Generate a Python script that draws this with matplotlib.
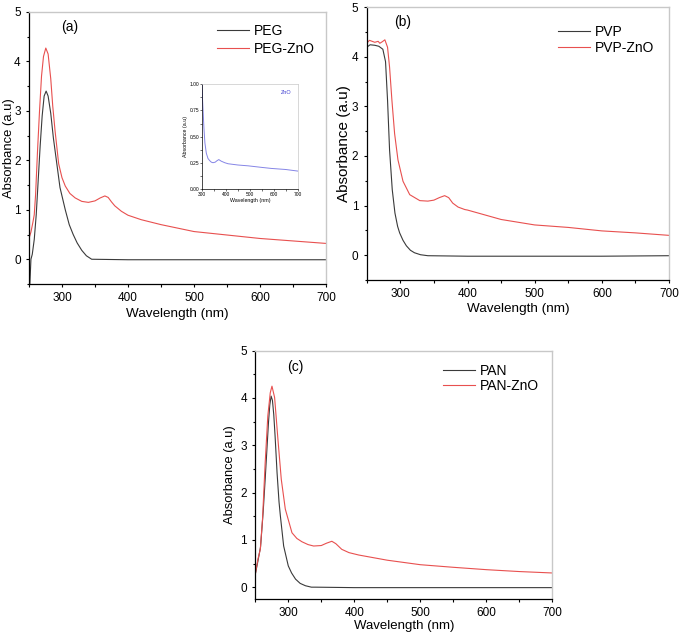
import matplotlib
matplotlib.use("Agg")
import matplotlib.pyplot as plt
from matplotlib.ticker import MultipleLocator

plt.rcParams['font.family'] = ['Liberation Sans', 'DejaVu Sans']

# ---------------- data ----------------
# Panel (a)
peg_x = [251, 252, 253, 255, 258, 261, 264, 267, 270, 273, 276, 279, 283, 287, 292,
         297, 305, 311, 317, 323, 330, 337, 345, 400, 500, 600, 700]
peg_y = [-0.6, -0.3, 0.0, 0.1, 0.4, 0.9, 1.6, 2.3, 2.9, 3.3, 3.4, 3.3, 2.95, 2.45, 1.95,
         1.45, 1.0, 0.7, 0.5, 0.33, 0.18, 0.07, 0.0, -0.01, -0.01, -0.01, -0.01]
pegzno_x = [250, 253, 256, 258, 260, 263, 266, 269, 272, 275.5, 279, 283, 286, 289.5, 295,
            300, 305, 312, 320, 330, 340, 350, 358, 365, 370, 375, 380, 390, 400, 420,
            450, 500, 550, 600, 650, 700]
pegzno_y = [0.42, 0.55, 0.75, 0.9, 1.3, 2.2, 3.0, 3.7, 4.1, 4.27, 4.15, 3.65, 3.1, 2.6, 1.93,
            1.65, 1.48, 1.33, 1.24, 1.17, 1.15, 1.18, 1.24, 1.28, 1.25, 1.16, 1.08, 0.97, 0.89, 0.80,
            0.70, 0.56, 0.49, 0.42, 0.37, 0.32]
# Inset (ZnO)
zno_x = [300, 302, 305, 308, 312, 318, 325, 332, 339, 346, 355, 362, 370, 380, 395, 409,
         450, 493, 550, 591, 650, 700]
zno_y = [1.0, 0.86, 0.72, 0.58, 0.44, 0.34, 0.29, 0.27, 0.255, 0.25, 0.255, 0.268, 0.28, 0.265,
         0.25, 0.24, 0.228, 0.22, 0.205, 0.195, 0.185, 0.17]

# Panel (b)
pvp_x = [250, 255, 262, 268, 274, 278, 281, 284, 288, 292, 296, 299, 304, 309, 315, 321,
         330, 341, 400, 500, 600, 700]
pvp_y = [4.19, 4.24, 4.23, 4.21, 4.15, 3.9, 3.12, 2.12, 1.32, 0.85, 0.58, 0.45, 0.3, 0.19, 0.1, 0.05,
         0.01, -0.01, -0.02, -0.02, -0.02, -0.01]
pvpzno_x = [250, 254, 258, 262, 267, 269.5, 273, 277, 281, 284, 287.5, 291.5, 296.5, 304, 314,
            329, 341, 350, 358, 366, 372, 378, 386, 396, 400, 450, 500, 550, 600, 650, 700]
pvpzno_y = [4.27, 4.33, 4.31, 4.29, 4.31, 4.27, 4.3, 4.34, 4.19, 3.79, 3.12, 2.45, 1.92, 1.49, 1.22,
            1.1, 1.09, 1.11, 1.16, 1.2, 1.16, 1.05, 0.97, 0.92, 0.91, 0.72, 0.61, 0.56, 0.49, 0.45, 0.40]

# Panel (c)
pan_x = [250, 254, 258, 262, 265, 268, 270, 272, 274, 276, 278, 280, 283, 286, 288, 293,
         300, 305, 311, 318, 326, 335, 341, 400, 500, 600, 700]
pan_y = [0.27, 0.55, 0.85, 1.6, 2.28, 3.0, 3.48, 3.85, 4.04, 3.95, 3.65, 3.2, 2.42, 1.8, 1.51, 0.87,
         0.45, 0.3, 0.17, 0.08, 0.03, 0.0, 0.0, -0.01, -0.01, -0.01, -0.01]
panzno_x = [250, 254, 257.6, 261, 265, 269, 272.7, 275.3, 279.3, 284.3, 289.4, 295.5, 305.6,
            313, 320.7, 330, 338.4, 350, 358, 366, 372, 381, 392, 406.6, 450, 500, 550, 600, 650, 700]
panzno_y = [0.27, 0.59, 0.8, 1.44, 2.63, 3.62, 4.11, 4.25, 4.01, 3.13, 2.28, 1.65, 1.15,
            1.03, 0.96, 0.9, 0.87, 0.88, 0.93, 0.97, 0.92, 0.8, 0.73, 0.68, 0.57, 0.475, 0.42, 0.37, 0.33, 0.30]

xticks = [300, 400, 500, 600, 700]
yticks = [0, 1, 2, 3, 4, 5]

BLACK = '#3a3a3a'
RED = '#e8504f'
GRAY = '#c8c8c8'

fig = plt.figure(figsize=(6.8, 6.36), dpi=100)


def style_axes(ax, ylim, tick_fs=8.5):
    ax.set_xlim(250, 700)
    ax.set_ylim(*ylim)
    ax.set_xticks(xticks)
    ax.set_yticks(yticks)
    ax.xaxis.set_minor_locator(MultipleLocator(50))
    ax.yaxis.set_minor_locator(MultipleLocator(0.5))
    ax.tick_params(which='major', direction='out', length=2.5, width=0.8,
                   labelsize=tick_fs, top=False, right=False)
    ax.tick_params(axis='x', which='major', pad=3.2)
    ax.tick_params(axis='y', which='major', pad=3.5)
    ax.tick_params(which='minor', direction='out', length=1.8, width=0.8, top=False, right=False)
    for s in ('top', 'right'):
        ax.spines[s].set_color(GRAY)
        ax.spines[s].set_linewidth(1.0)
    for s in ('left', 'bottom'):
        ax.spines[s].set_color('black')
        ax.spines[s].set_linewidth(0.9)


def panel(rect, x1, y1, l1, x2, y2, l2, tag, ylim, ylabel_fs, ylabel_x, xlabel_fs, xlabel_pad,
          tag_xy, leg_anchor, leg_spacing):
    ax = fig.add_axes(rect)
    ax.plot(x1, y1, color=BLACK, lw=0.8, label=l1)
    ax.plot(x2, y2, color=RED, lw=0.8, label=l2)
    style_axes(ax, ylim)
    ax.set_xlabel('Wavelength (nm)', fontsize=xlabel_fs, labelpad=xlabel_pad)
    ax.set_ylabel('Absorbance (a.u)', fontsize=ylabel_fs)
    ax.yaxis.set_label_coords(ylabel_x, 0.5)
    ax.text(tag_xy[0], tag_xy[1], tag, fontsize=10, ha='center', va='center')
    ax.legend(loc='upper left', frameon=False, fontsize=10, handlelength=2.3,
              handletextpad=0.35, labelspacing=leg_spacing, borderaxespad=0, borderpad=0,
              bbox_to_anchor=leg_anchor)
    return ax


axa = panel([0.0426, 0.5535, 0.4368, 0.4277], peg_x, peg_y, 'PEG', pegzno_x, pegzno_y, 'PEG-ZnO',
            '(a)', (-0.5, 5), 9.4, -0.0485, 9.7, 3.0, (311, 4.69), (0.632, 0.955), 0.25)
axb = panel([0.5393, 0.5597, 0.4446, 0.4292], pvp_x, pvp_y, 'PVP', pvpzno_x, pvpzno_y, 'PVP-ZnO',
            '(b)', (-0.5, 5), 11.0, -0.052, 9.7, 2.3, (304, 4.7), (0.633, 0.934), 0.12)
axc = panel([0.3754, 0.0582, 0.4368, 0.3904], pan_x, pan_y, 'PAN', panzno_x, panzno_y, 'PAN-ZnO',
            '(c)', (-0.25, 5), 9.3, -0.066, 9.5, 0.5, (311, 4.66), (0.631, 0.948), 0.08)

# inset
axi = fig.add_axes([0.2971, 0.7031, 0.1407, 0.1643])
axi.plot(zno_x, zno_y, color='#8585e6', lw=0.7)
axi.set_xlim(300, 700)
axi.set_ylim(0, 1)
axi.set_xticks([300, 400, 500, 600, 700])
axi.set_yticks([0, 0.25, 0.5, 0.75, 1.0])
axi.set_yticklabels(['0.00', '0.25', '0.50', '0.75', '1.00'])
axi.xaxis.set_minor_locator(MultipleLocator(50))
axi.yaxis.set_minor_locator(MultipleLocator(0.125))
axi.tick_params(which='both', direction='out', length=1.2, width=0.4, labelsize=3.5, pad=1,
                top=False, right=False)
for s in ('top', 'right'):
    axi.spines[s].set_color(GRAY)
for s in axi.spines.values():
    s.set_linewidth(0.5)
axi.set_xlabel('Wavelength (nm)', fontsize=3.8, labelpad=1)
axi.set_ylabel('Absorbance (a.u)', fontsize=3.8, labelpad=1)
axi.text(0.93, 0.92, 'ZnO', transform=axi.transAxes, fontsize=4, color='#3a3ad0',
         ha='right', va='center')

fig.savefig('out.png', dpi=100)
